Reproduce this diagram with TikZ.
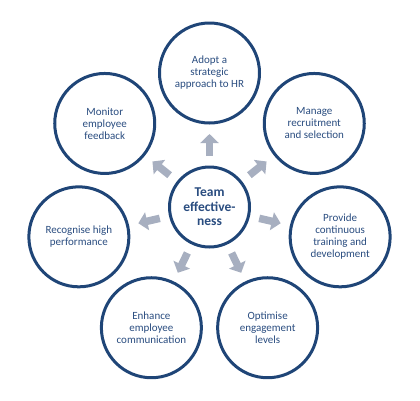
\documentclass[tikz,border=0pt]{standalone}
\usepackage{fontspec}
\setmainfont{Carlito}
\usetikzlibrary{calc,arrows.meta}
\definecolor{ring}{HTML}{1F4577}
\definecolor{txt}{HTML}{2A4D80}
\definecolor{arr}{HTML}{A7AFC0}
\tikzset{
  outer/.style={circle,draw=ring,line width=3pt,fill=white,minimum size=100pt,inner sep=0pt,align=center,text=txt,font=\fontsize{11}{12}\selectfont},
  hub/.style={circle,draw=ring,line width=3pt,fill=white,minimum size=80pt,inner sep=0pt,align=center,text=txt,font=\fontsize{13.5}{14.5}\selectfont\bfseries},
  blockarrow/.style={line width=7.5pt,draw=arr,-{Triangle[width=18pt,length=9pt,fill=arr]}}
}
\begin{document}
\begin{tikzpicture}[x=1pt,y=-1pt]
\useasboundingbox (0,0) rectangle (420,400);
\node[hub] (c) at (209.5,207) {Team\\effective-\\ness};
\node[outer] (o1) at ($(c)+(90:134pt)$) {Adopt a\\strategic\\approach to HR};
\node[outer] (o2) at ($(c)+(38.57:134pt)$) {Manage\\recruitment\\and selection};
\node[outer] (o3) at ($(c)+(-12.86:134pt)$) {Provide\\continuous\\training and\\development};
\node[outer] (o4) at ($(c)+(-64.29:134pt)$) {Optimise\\engagement\\levels};
\node[outer] (o5) at ($(c)+(-115.71:134pt)$) {Enhance\\employee\\communication};
\node[outer] (o6) at ($(c)+(-167.14:134pt)$) {Recognise high\\performance};
\node[outer] (o7) at ($(c)+(141.43:134pt)$) {Monitor\\employee\\feedback};
\foreach \o in {o1,o2,o3,o4,o5,o6,o7}{
  \draw[blockarrow] ($(c)!51pt!(\o)$) -- ($(c)!73pt!(\o)$);
}
\end{tikzpicture}
\end{document}
